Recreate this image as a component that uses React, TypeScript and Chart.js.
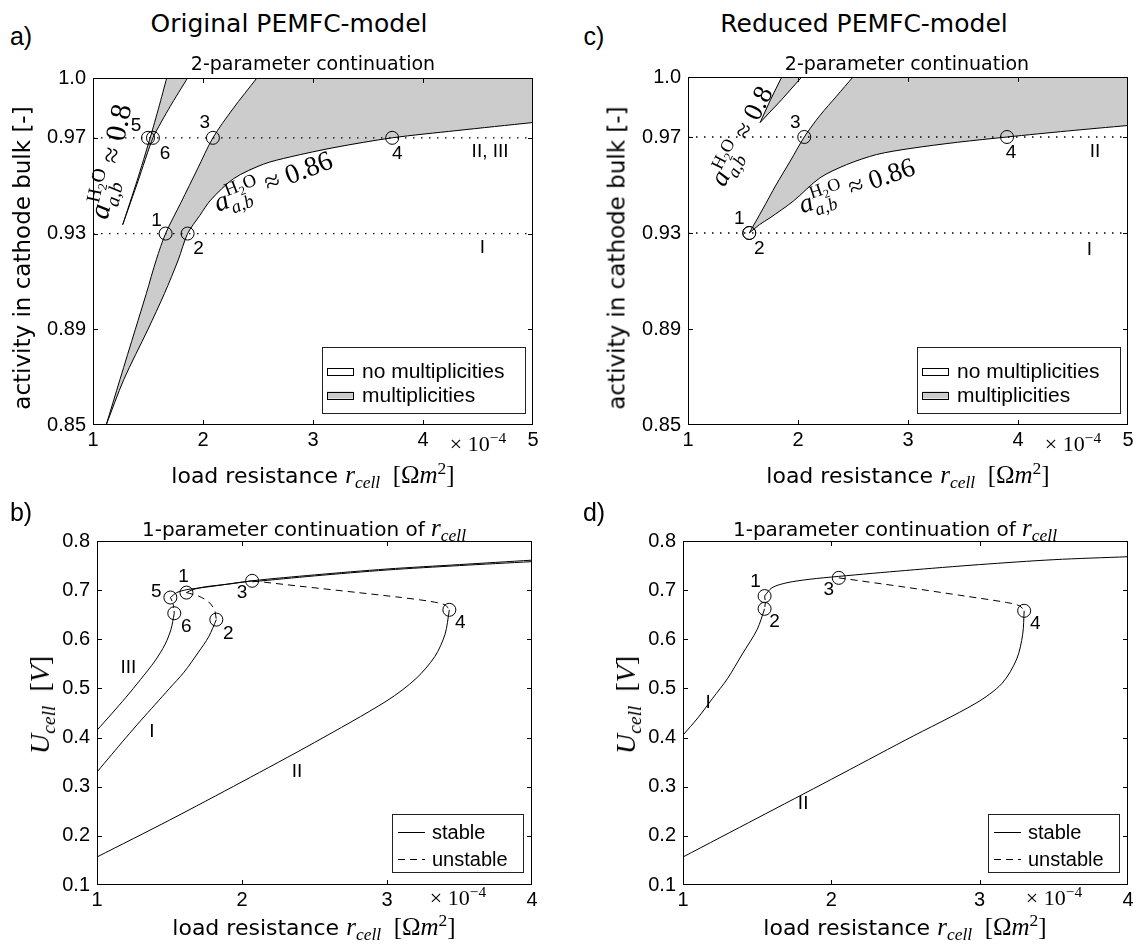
import React, { useEffect, useRef } from 'react';
import { Chart, registerables } from 'chart.js';

Chart.register(...registerables);

// ---------------- data (load resistance in units of 1e-4 Ohm m^2) ----------------
// panel a) original model, 2-parameter continuation
const aXTicks = [1, 2, 3, 4, 5];
const aYTicks = [0.85, 0.89, 0.93, 0.97, 0.995];
const aYTickLabels = ['0.85', '0.89', '0.93', '0.97', '1.0'];
const aDotLevels = [0.93, 0.97];
const aUpperX = [1.12, 1.245, 1.385, 1.485, 1.575, 1.66, 1.80, 1.95, 2.09, 2.27, 2.49];
const aUpperY = [0.85, 0.869, 0.89, 0.905, 0.919, 0.93, 0.943, 0.957, 0.97, 0.982, 0.995];
const aLowerX = [1.12, 1.28, 1.50, 1.65, 1.775, 1.86, 1.97, 2.07, 2.28, 2.55, 2.79, 3.2, 3.72, 4.3, 5.0];
const aLowerY = [0.85, 0.869, 0.89, 0.905, 0.919, 0.93, 0.9375, 0.944, 0.953, 0.959, 0.962, 0.966, 0.97, 0.973, 0.9764];
const aWedgeLeftX = [1.27, 1.40, 1.52, 1.60, 1.67];
const aWedgeLeftY = [0.9337, 0.952, 0.97, 0.983, 0.995];
const aWedgeRightX = [1.27, 1.41, 1.545, 1.70, 1.86];
const aWedgeRightY = [0.9337, 0.952, 0.97, 0.983, 0.995];
const aPointX = [1.66, 1.86, 2.09, 3.72, 1.50, 1.545];
const aPointY = [0.93, 0.93, 0.97, 0.97, 0.97, 0.97];
const aPointNames = ['1', '2', '3', '4', '5', '6'];
const aRegionNames = ['II, III', 'I'];
const aRegionX = [4.61, 4.54];
const aRegionY = [0.964, 0.924];

// panel c) reduced model, 2-parameter continuation
const cUpperX = [1.557, 1.68, 1.80, 1.93, 2.057, 2.2, 2.35, 2.50];
const cUpperY = [0.93, 0.94, 0.95, 0.96, 0.97, 0.979, 0.987, 0.995];
const cLowerX = [1.557, 1.65, 1.745, 1.958, 2.2, 2.443, 2.715, 3.018, 3.45, 3.9, 4.45, 5.0];
const cLowerY = [0.93, 0.9335, 0.9363, 0.9433, 0.953, 0.9585, 0.9627, 0.9652, 0.9678, 0.97, 0.9725, 0.9748];
const cWedgeLeftX = [1.655, 1.75, 1.852];
const cWedgeLeftY = [0.976, 0.9855, 0.995];
const cWedgeRightX = [1.655, 1.85, 2.034];
const cWedgeRightY = [0.976, 0.9855, 0.995];
const cPointX = [1.557, 1.557, 2.057, 3.9];
const cPointY = [0.93, 0.93, 0.97, 0.97];
const cPointNames = ['1', '2', '3', '4'];
const cRegionNames = ['II', 'I'];
const cRegionX = [4.70, 4.65];
const cRegionY = [0.964, 0.923];

// panel b) original model, 1-parameter continuation
const bXTicks = [1, 2, 3, 4];
const bYTicks = [0.1, 0.2, 0.3, 0.4, 0.5, 0.6, 0.7, 0.8];
const bBranch3X = [1, 1.1, 1.2, 1.3, 1.4, 1.47, 1.51, 1.533];
const bBranch3Y = [0.415, 0.448, 0.482, 0.518, 0.556, 0.59, 0.62, 0.653];
const bBranch1X = [1, 1.1, 1.2, 1.3, 1.4, 1.5, 1.6, 1.7, 1.77, 1.823];
const bBranch1Y = [0.33, 0.365, 0.40, 0.434, 0.467, 0.50, 0.533, 0.574, 0.605, 0.64];
const bBranch2X = [1, 1.5, 2, 2.5, 3, 3.2, 3.33, 3.40, 3.43];
const bBranch2Y = [0.157, 0.232, 0.31, 0.39, 0.475, 0.52, 0.565, 0.61, 0.66];
const bUpper5X = [1.506, 1.55, 1.62, 1.75, 2.07, 2.5, 3, 3.5, 4];
const bUpper5Y = [0.685, 0.695, 0.701, 0.706, 0.719, 0.731, 0.743, 0.752, 0.761];
const bUpper1X = [1.617, 1.66, 1.75, 1.9, 2.07];
const bUpper1Y = [0.695, 0.701, 0.707, 0.712, 0.719];
const bUpper3X = [2.07, 2.5, 3, 3.5, 4];
const bUpper3Y = [0.717, 0.729, 0.741, 0.75, 0.758];
const bUnst12X = [1.617, 1.70, 1.77, 1.81, 1.823];
const bUnst12Y = [0.695, 0.688, 0.676, 0.66, 0.64];
const bUnst56X = [1.506, 1.525, 1.533];
const bUnst56Y = [0.685, 0.672, 0.653];
const bUnst34X = [2.07, 2.4, 2.8, 3.1, 3.3, 3.4, 3.43];
const bUnst34Y = [0.719, 0.708, 0.695, 0.685, 0.677, 0.67, 0.66];
const bPointX = [1.617, 1.823, 2.07, 3.43, 1.506, 1.533];
const bPointY = [0.695, 0.64, 0.719, 0.66, 0.685, 0.653];
const bPointNames = ['1', '2', '3', '4', '5', '6'];
const bRegionNames = ['III', 'I', 'II'];
const bRegionX = [1.216, 1.378, 2.38];
const bRegionY = [0.542, 0.412, 0.33];

// panel d) reduced model, 1-parameter continuation
const dBranch1X = [1, 1.1, 1.2, 1.3, 1.4, 1.5, 1.55];
const dBranch1Y = [0.405, 0.44, 0.48, 0.52, 0.57, 0.62, 0.662];
const dBranch2X = [1, 1.5, 2, 2.5, 2.975, 3.15, 3.25, 3.29, 3.30];
const dBranch2Y = [0.157, 0.236, 0.315, 0.395, 0.47, 0.51, 0.56, 0.61, 0.658];
const dUpperX = [1.55, 1.6, 1.7, 1.85, 2.05, 2.5, 3, 3.5, 4];
const dUpperY = [0.688, 0.705, 0.715, 0.722, 0.728, 0.74, 0.752, 0.762, 0.768];
const dUnst12X = [1.55, 1.555, 1.55];
const dUnst12Y = [0.688, 0.675, 0.662];
const dUnst34X = [2.05, 2.5, 2.9, 3.18, 3.27, 3.30];
const dUnst34Y = [0.725, 0.706, 0.688, 0.675, 0.668, 0.658];
const dPointX = [1.55, 1.55, 2.05, 3.30];
const dPointY = [0.688, 0.662, 0.725, 0.658];
const dPointNames = ['1', '2', '3', '4'];
const dRegionNames = ['I', 'II'];
const dRegionX = [1.17, 1.81];
const dRegionY = [0.47, 0.265];

// ---------------- styling ----------------
const SANS = '"DejaVu Sans", "Noto Sans", sans-serif';
const ARIAL = '"Liberation Sans", Arial, sans-serif';
const SERIF = '"Liberation Serif", "DejaVu Serif", serif';
const GRAY = '#cccccc';
const TICK_FONT = 20;

type P = { x: number; y: number };
const zip = (xs: number[], ys: number[]): P[] => xs.map((x, i) => ({ x, y: ys[i] }));

type Rect = { l: number; t: number; r: number; b: number };
const RECT_A: Rect = { l: 93, t: 78, r: 533, b: 425 };
const RECT_C: Rect = { l: 688, t: 77, r: 1128, b: 425 };
const RECT_B: Rect = { l: 97, t: 541, r: 532, b: 885 };
const RECT_D: Rect = { l: 683, t: 541, r: 1128, b: 885 };
const PADL = 90, PADT = 20, PADR = 12, PADB = 40, XH = 32;

const lineDs = (data: P[], dash: number[] = [], tension = 0.3) => ({
  data, showLine: true, borderColor: '#000', borderWidth: 1, borderDash: dash,
  pointRadius: 0, fill: false, tension, order: 1,
});
const areaDs = (data: P[]) => ({
  data, showLine: true, borderColor: 'rgba(0,0,0,0)', borderWidth: 1, backgroundColor: GRAY,
  pointRadius: 0, fill: 'shape', tension: 0, order: 10,
});
const circleDs = (data: P[]) => ({
  data, showLine: false, pointRadius: 6.5, pointHoverRadius: 6.5, pointStyle: 'circle',
  pointBorderColor: '#000', pointBackgroundColor: 'rgba(0,0,0,0)', pointBorderWidth: 1, order: 0,
});
const dottedDs = (y: number, x0: number, x1: number) => ({
  data: [{ x: x0, y }, { x: x1, y }], showLine: true, borderColor: '#000', borderWidth: 1.3,
  borderDash: [1.5, 6.5], pointRadius: 0, fill: false, order: 2,
});

type Seg = { t: string; size: number; italic?: boolean; dy?: number; mark?: boolean; stack?: boolean };
const activitySegs = (val: string, k = 1): Seg[] => [
  { t: 'a', size: 27 * k, italic: true },
  { t: 'H', size: 18 * k, dy: -11 * k, mark: true },
  { t: '2', size: 12 * k, dy: -7 * k },
  { t: 'O', size: 18 * k, dy: -11 * k },
  { t: 'a,b', size: 18 * k, italic: true, dy: 7 * k, stack: true },
  { t: ' \u2248 ' + val, size: 27 * k },
];

type Lab = { x: number; y: number; text: string; dx: number; dy: number };
type MathLab = { x: number; y: number; rot: number; segs: Seg[] };
type Legend = { kind: 'patch' | 'line'; w: number; h: number; right: number; bottom: number; rows: number[]; font: number; items: { label: string; fill?: string; dash?: number[] }[] };

function drawRich(ctx: CanvasRenderingContext2D, segs: Seg[], cx: number, cy: number, rot: number) {
  ctx.save();
  ctx.translate(cx, cy);
  ctx.rotate((rot * Math.PI) / 180);
  const fontOf = (s: Seg) => `${s.italic ? 'italic ' : ''}${s.size}px ${SERIF}`;
  let cursor = 0, group = 0;
  const pos: number[] = [];
  segs.forEach((s) => {
    ctx.font = fontOf(s);
    const w = ctx.measureText(s.t).width;
    if (s.stack) { pos.push(group); cursor = Math.max(cursor, group + w); }
    else { if (s.mark) group = cursor; pos.push(cursor); cursor += w; }
  });
  ctx.fillStyle = '#000';
  ctx.textAlign = 'left';
  ctx.textBaseline = 'alphabetic';
  segs.forEach((s, i) => { ctx.font = fontOf(s); ctx.fillText(s.t, pos[i] - cursor / 2, (s.dy || 0) + 8); });
  ctx.restore();
}

function decorPlugin(o: { xTicks: number[]; yTicks: number[]; labels: Lab[]; math: MathLab[]; legend: Legend }) {
  return {
    id: 'decor',
    afterDatasetsDraw(chart: any) {
      const { ctx, chartArea: ca, scales } = chart;
      const xs = scales.x, ys = scales.y;
      ctx.save();
      ctx.strokeStyle = '#000';
      ctx.lineWidth = 1;
      ctx.strokeRect(ca.left + 0.5, ca.top + 0.5, ca.right - ca.left - 1, ca.bottom - ca.top - 1);
      ctx.beginPath();
      o.xTicks.forEach((v) => {
        const p = Math.round(xs.getPixelForValue(v)) + 0.5;
        if (p < ca.left + 2 || p > ca.right - 2) return;
        ctx.moveTo(p, ca.bottom); ctx.lineTo(p, ca.bottom - 5);
        ctx.moveTo(p, ca.top); ctx.lineTo(p, ca.top + 5);
      });
      o.yTicks.forEach((v) => {
        const p = Math.round(ys.getPixelForValue(v)) + 0.5;
        if (p < ca.top + 2 || p > ca.bottom - 2) return;
        ctx.moveTo(ca.left, p); ctx.lineTo(ca.left + 5, p);
        ctx.moveTo(ca.right, p); ctx.lineTo(ca.right - 5, p);
      });
      ctx.stroke();
      ctx.fillStyle = '#000';
      ctx.textAlign = 'center';
      ctx.textBaseline = 'middle';
      ctx.font = `19px ${ARIAL}`;
      o.labels.forEach((l) => {
        ctx.fillText(l.text, xs.getPixelForValue(l.x) + l.dx, ys.getPixelForValue(l.y) + l.dy);
      });
      o.math.forEach((m) => drawRich(ctx, m.segs, xs.getPixelForValue(m.x), ys.getPixelForValue(m.y), m.rot));
      // legend
      const L = o.legend;
      const bx = Math.round(ca.right - L.right - L.w), by = Math.round(ca.bottom - L.bottom - L.h);
      ctx.fillStyle = '#fff';
      ctx.fillRect(bx, by, L.w, L.h);
      ctx.strokeStyle = '#222';
      ctx.strokeRect(bx + 0.5, by + 0.5, L.w, L.h);
      L.items.forEach((it, i) => {
        const yy = by + L.rows[i];
        if (L.kind === 'patch') {
          ctx.fillStyle = it.fill || '#fff';
          ctx.fillRect(bx + 5, yy - 3.5, 26, 7);
          ctx.strokeStyle = '#000';
          ctx.setLineDash([]);
          ctx.strokeRect(bx + 5.5, Math.round(yy - 3.5) + 0.5, 26, 7);
        } else {
          ctx.strokeStyle = '#000';
          ctx.setLineDash(it.dash || []);
          ctx.beginPath();
          ctx.moveTo(bx + 6, Math.round(yy) + 0.5);
          ctx.lineTo(bx + 33, Math.round(yy) + 0.5);
          ctx.stroke();
          ctx.setLineDash([]);
        }
        ctx.fillStyle = '#000';
        ctx.textAlign = 'left';
        ctx.font = `${L.font}px ${ARIAL}`;
        ctx.fillText(it.label, bx + 40, yy + 1);
      });
      ctx.restore();
    },
  };
}

function buildConfig(p: {
  xMin: number; xMax: number; xTicks: number[]; yMin: number; yMax: number; yTicks: number[]; yLabels?: string[];
  datasets: any[]; plugin: any;
}) {
  return {
    type: 'scatter',
    data: { datasets: p.datasets },
    options: {
      animation: false,
      responsive: false,
      maintainAspectRatio: false,
      events: [],
      layout: { padding: { left: 0, top: PADT, right: PADR, bottom: PADB - XH } },
      plugins: { legend: { display: false }, tooltip: { enabled: false }, title: { display: false } },
      scales: {
        x: {
          type: 'linear', min: p.xMin, max: p.xMax,
          afterBuildTicks: (s: any) => { s.ticks = p.xTicks.map((v) => ({ value: v })); },
          afterFit: (s: any) => { s.height = XH; },
          grid: { display: false, drawTicks: false },
          border: { display: false },
          ticks: { color: '#000', font: { family: ARIAL, size: TICK_FONT }, padding: 3, maxRotation: 0, autoSkip: false,
            callback: (v: number) => String(v) },
        },
        y: {
          type: 'linear', min: p.yMin, max: p.yMax,
          afterBuildTicks: (s: any) => { s.ticks = p.yTicks.map((v) => ({ value: v })); },
          afterFit: (s: any) => { s.width = PADL; },
          grid: { display: false, drawTicks: false },
          border: { display: false },
          ticks: { color: '#000', font: { family: ARIAL, size: TICK_FONT }, padding: 7, autoSkip: false,
            callback: (v: number, i: number) => (p.yLabels ? p.yLabels[i] : v.toFixed(1)) },
        },
      },
    },
    plugins: [p.plugin],
  };
}

function PlotCanvas({ rect, build }: { rect: Rect; build: () => any }) {
  const ref = useRef<HTMLCanvasElement>(null);
  useEffect(() => {
    const chart = new Chart(ref.current as HTMLCanvasElement, build());
    return () => chart.destroy();
  }, []);
  const w = rect.r - rect.l + PADL + PADR;
  const h = rect.b - rect.t + PADT + PADB;
  return (
    <canvas ref={ref} width={w} height={h}
      style={{ position: 'absolute', left: rect.l - PADL, top: rect.t - PADT, width: w, height: h }} />
  );
}

const pointLabels = (xs: number[], ys: number[], names: string[], offs: number[][]): Lab[] =>
  names.map((n, i) => ({ x: xs[i], y: ys[i], text: n, dx: offs[i][0], dy: offs[i][1] }));
const regionLabels = (xs: number[], ys: number[], names: string[]): Lab[] =>
  names.map((n, i) => ({ x: xs[i], y: ys[i], text: n, dx: 0, dy: 0 }));

const patchLegend: Legend = {
  kind: 'patch', w: 203, h: 66, right: 8, bottom: 12, rows: [24, 48], font: 21,
  items: [{ label: 'no multiplicities', fill: '#fff' }, { label: 'multiplicities', fill: GRAY }],
};
const lineLegend: Legend = {
  kind: 'line', w: 131, h: 58, right: 9, bottom: 13, rows: [18, 45], font: 20,
  items: [{ label: 'stable', dash: [] }, { label: 'unstable', dash: [7, 5] }],
};

const buildA = () => buildConfig({
  xMin: 1, xMax: 5, xTicks: aXTicks, yMin: 0.85, yMax: 0.995, yTicks: aYTicks, yLabels: aYTickLabels,
  datasets: [
    ...aDotLevels.map((y) => dottedDs(y, 1, 5)),
    areaDs([...zip(aUpperX, aUpperY), { x: 5, y: 0.995 }, ...zip(aLowerX, aLowerY).reverse()]),
    areaDs([...zip(aWedgeLeftX, aWedgeLeftY), ...zip(aWedgeRightX, aWedgeRightY).reverse()]),
    lineDs(zip(aUpperX, aUpperY)),
    lineDs(zip(aLowerX, aLowerY)),
    lineDs(zip(aWedgeLeftX, aWedgeLeftY), [], 0.2),
    lineDs(zip(aWedgeRightX, aWedgeRightY), [], 0.2),
    circleDs(zip(aPointX, aPointY)),
  ],
  plugin: decorPlugin({
    xTicks: aXTicks, yTicks: aYTicks,
    labels: [
      ...pointLabels(aPointX, aPointY, aPointNames, [[-9, -13], [11, 15], [-8, -15], [5, 16], [-12, -12], [12, 16]]),
      ...regionLabels(aRegionX, aRegionY, aRegionNames),
    ],
    math: [
      { x: 2.64, y: 0.9515, rot: -21, segs: activitySegs('0.86', 1.03) },
      { x: 1.17, y: 0.960, rot: -78, segs: activitySegs('0.8', 1.08) },
    ],
    legend: patchLegend,
  }),
});

const buildC = () => buildConfig({
  xMin: 1, xMax: 5, xTicks: aXTicks, yMin: 0.85, yMax: 0.995, yTicks: aYTicks, yLabels: aYTickLabels,
  datasets: [
    ...aDotLevels.map((y) => dottedDs(y, 1, 5)),
    areaDs([...zip(cUpperX, cUpperY), { x: 5, y: 0.995 }, ...zip(cLowerX, cLowerY).reverse()]),
    areaDs([...zip(cWedgeLeftX, cWedgeLeftY), ...zip(cWedgeRightX, cWedgeRightY).reverse()]),
    lineDs(zip(cUpperX, cUpperY)),
    lineDs(zip(cLowerX, cLowerY)),
    lineDs(zip(cWedgeLeftX, cWedgeLeftY), [], 0),
    lineDs(zip(cWedgeRightX, cWedgeRightY), [], 0),
    circleDs(zip(cPointX, cPointY)),
  ],
  plugin: decorPlugin({
    xTicks: aXTicks, yTicks: aYTicks,
    labels: [
      ...pointLabels(cPointX, cPointY, cPointNames, [[-10, -14], [10, 16], [-9, -14], [4, 16]]),
      ...regionLabels(cRegionX, cRegionY, cRegionNames),
    ],
    math: [
      { x: 2.536, y: 0.9495, rot: -19, segs: activitySegs('0.86') },
      { x: 1.49, y: 0.9703, rot: -63, segs: activitySegs('0.8') },
    ],
    legend: patchLegend,
  }),
});

const buildB = () => buildConfig({
  xMin: 1, xMax: 4, xTicks: bXTicks, yMin: 0.1, yMax: 0.8, yTicks: bYTicks,
  datasets: [
    lineDs(zip(bBranch3X, bBranch3Y)),
    lineDs(zip(bBranch1X, bBranch1Y)),
    lineDs(zip(bBranch2X, bBranch2Y)),
    lineDs(zip(bUpper5X, bUpper5Y)),
    lineDs(zip(bUpper1X, bUpper1Y)),
    lineDs(zip(bUpper3X, bUpper3Y)),
    lineDs(zip(bUnst12X, bUnst12Y), [7, 5]),
    lineDs(zip(bUnst56X, bUnst56Y), [4, 3]),
    lineDs(zip(bUnst34X, bUnst34Y), [7, 5]),
    circleDs(zip(bPointX, bPointY)),
  ],
  plugin: decorPlugin({
    xTicks: bXTicks, yTicks: bYTicks,
    labels: [
      ...pointLabels(bPointX, bPointY, bPointNames, [[-3, -16], [12, 14], [-10, 12], [11, 13], [-14, -6], [12, 14]]),
      ...regionLabels(bRegionX, bRegionY, bRegionNames),
    ],
    math: [],
    legend: lineLegend,
  }),
});

const buildD = () => buildConfig({
  xMin: 1, xMax: 4, xTicks: bXTicks, yMin: 0.1, yMax: 0.8, yTicks: bYTicks,
  datasets: [
    lineDs(zip(dBranch1X, dBranch1Y)),
    lineDs(zip(dBranch2X, dBranch2Y)),
    lineDs(zip(dUpperX, dUpperY)),
    lineDs(zip(dUnst12X, dUnst12Y), [4, 3]),
    lineDs(zip(dUnst34X, dUnst34Y), [7, 5]),
    circleDs(zip(dPointX, dPointY)),
  ],
  plugin: decorPlugin({
    xTicks: bXTicks, yTicks: bYTicks,
    labels: [
      ...pointLabels(dPointX, dPointY, dPointNames, [[-9, -14], [10, 13], [-10, 12], [11, 13]]),
      ...regionLabels(dRegionX, dRegionY, dRegionNames),
    ],
    math: [],
    legend: lineLegend,
  }),
});

// ---------------- HTML text helpers ----------------
function T(props: { x: number; y: number; rot?: number; size: number; family?: string; children: any }) {
  const { x, y, rot = 0, size, family = SANS, children } = props;
  return (
    <div style={{
      position: 'absolute', left: x, top: y, transform: `translate(-50%, -50%) rotate(${rot}deg)`,
      whiteSpace: 'nowrap', fontSize: size, fontFamily: family, lineHeight: 1, color: '#000',
    }}>{children}</div>
  );
}
const Mi = ({ children, size }: { children: any; size?: number }) => (
  <span style={{ fontFamily: SERIF, fontStyle: 'italic', fontSize: size }}>{children}</span>
);
const Sub = ({ children }: { children: any }) => (
  <span style={{ fontSize: '0.7em', position: 'relative', top: '0.3em' }}>{children}</span>
);
const Sup = ({ children }: { children: any }) => (
  <span style={{ fontSize: '0.7em', position: 'relative', top: '-0.5em' }}>{children}</span>
);

const XTitle = () => (
  <>
    <span>load resistance </span>
    <Mi size={25}>r<Sub>cell</Sub></Mi>
    <span style={{ fontFamily: SERIF, fontSize: 25 }}>{'\u00a0\u00a0[\u03a9'}<i>m</i><Sup>2</Sup>]</span>
  </>
);
const Rcell = () => <Mi size={25}>r<Sub>cell</Sub></Mi>;
const Exp = () => (
  <span style={{ fontFamily: SERIF }}>{'\u00d7 10'}<Sup>{'\u22124'}</Sup></span>
);
const UTitle = () => (
  <Mi size={28}>U<Sub>cell</Sub>{'\u00a0\u00a0'}<span style={{ fontStyle: 'normal' }}>[</span>V<span style={{ fontStyle: 'normal' }}>]</span></Mi>
);

export default function App() {
  return (
    <div style={{ position: 'absolute', left: 0, top: 0, width: 1141, height: 948, background: '#fff', overflow: 'hidden' }}>
      <PlotCanvas rect={RECT_A} build={buildA} />
      <PlotCanvas rect={RECT_C} build={buildC} />
      <PlotCanvas rect={RECT_B} build={buildB} />
      <PlotCanvas rect={RECT_D} build={buildD} />

      {/* left column */}
      <T x={21} y={36} size={25} family={ARIAL}>a)</T>
      <T x={289} y={23} size={25}>Original PEMFC-model</T>
      <T x={313} y={63} size={19}>2-parameter continuation</T>
      <T x={22} y={258} rot={-90} size={23}>activity in cathode bulk [-]</T>
      <T x={313} y={474} size={22}><XTitle /></T>
      <T x={478} y={444} size={22}><Exp /></T>

      <T x={21} y={512} size={25} family={ARIAL}>b)</T>
      <T x={304} y={527} size={20}>1-parameter continuation of <Rcell /></T>
      <T x={40} y={705} rot={-90} size={22}><UTitle /></T>
      <T x={314} y={926} size={22}><XTitle /></T>
      <T x={458} y={898} size={22}><Exp /></T>

      {/* right column */}
      <T x={594} y={36} size={25} family={ARIAL}>c)</T>
      <T x={864} y={23} size={25}>Reduced PEMFC-model</T>
      <T x={907} y={63} size={19}>2-parameter continuation</T>
      <T x={617} y={258} rot={-90} size={23}>activity in cathode bulk [-]</T>
      <T x={908} y={474} size={22}><XTitle /></T>
      <T x={1073} y={444} size={22}><Exp /></T>

      <T x={594} y={512} size={25} family={ARIAL}>d)</T>
      <T x={895} y={527} size={20}>1-parameter continuation of <Rcell /></T>
      <T x={626} y={705} rot={-90} size={22}><UTitle /></T>
      <T x={905} y={926} size={22}><XTitle /></T>
      <T x={1054} y={898} size={22}><Exp /></T>
    </div>
  );
}
